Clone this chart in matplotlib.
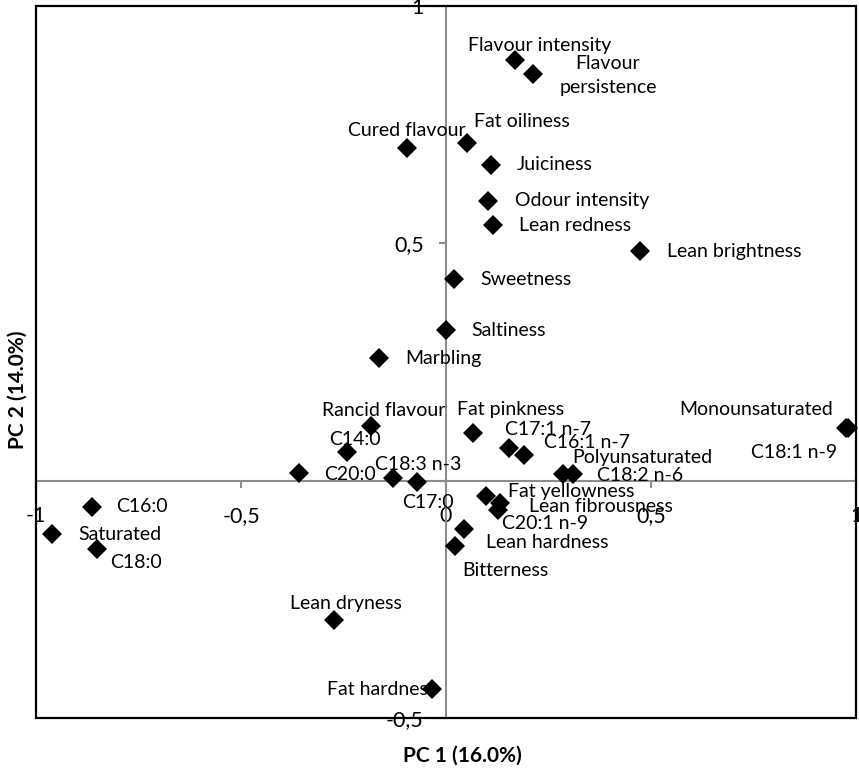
import matplotlib
matplotlib.use("Agg")
import matplotlib.pyplot as plt
from matplotlib.patches import Rectangle

plt.rcParams['font.family'] = ['Lato', 'DejaVu Sans']

names = ["Flavour intensity", "Flavour\npersistence", "Cured flavour", "Fat oiliness",
         "Juiciness", "Odour intensity", "Lean redness", "Lean brightness",
         "Sweetness", "Saltiness", "Marbling", "Rancid flavour", "C14:0", "C20:0",
         "C18:3 n-3", "C17:0", "Fat pinkness", "C17:1 n-7", "C16:1 n-7",
         "Polyunsaturated", "C18:2 n-6", "Fat yellowness", "Lean fibrousness",
         "C20:1 n-9", "Lean hardness", "Bitterness", "Monounsaturated", "C18:1 n-9",
         "C16:0", "Saturated", "C18:0", "Lean dryness", "Fat hardness"]
pc1 = [0.168, 0.212, -0.095, 0.051, 0.110, 0.102, 0.115, 0.473, 0.020, 0.000,
       -0.163, -0.183, -0.241, -0.359, -0.129, -0.071, 0.066, 0.154, 0.190,
       0.285, 0.310, 0.098, 0.132, 0.127, 0.044, 0.022, 0.980, 0.976,
       -0.863, -0.961, -0.851, -0.273, -0.034]
pc2 = [0.887, 0.857, 0.700, 0.712, 0.666, 0.590, 0.538, 0.483, 0.424, 0.317,
       0.258, 0.116, 0.061, 0.017, 0.006, -0.002, 0.101, 0.069, 0.055,
       0.015, 0.015, -0.032, -0.046, -0.061, -0.101, -0.137, 0.111, 0.111,
       -0.055, -0.113, -0.145, -0.294, -0.439]
xticks = [-1, -0.5, 0, 0.5, 1]
xticklabels = ["-1", "-0,5", "0", "0,5", "1"]
yticks = [-0.5, 0, 0.5, 1]
yticklabels = ["-0,5", "", "0,5", "1"]
xlabel = "PC 1 (16.0%)"
ylabel = "PC 2 (14.0%)"

# label placement (pixel offsets from marker: dx right, dy down, alignment)
label_style = [(25, -14, 'center'), (75, 2, 'center'), (0, -18, 'center'), (55, -21, 'center'),
               (26, 0, 'left'), (27, 0, 'left'), (26, 0, 'left'), (27, 0, 'left'),
               (26, 0, 'left'), (25, 0, 'left'), (26, 0, 'left'), (13, -15, 'center'),
               (8, -12, 'center'), (25, 2, 'left'), (25, -13, 'center'), (11, 21, 'center'),
               (38, -23, 'center'), (39, -18, 'center'), (63, -12, 'center'),
               (79, -16, 'center'), (67, 2, 'center'), (85, -4, 'center'), (101, 4, 'center'),
               (47, 14, 'center'), (83, 14, 'center'), (50, 25, 'center'), (-92, -18, 'center'),
               (-52, 25, 'center'), (50, 0, 'center'), (68, 0, 'center'), (39, 13, 'center'),
               (12, -17, 'center'), (-50, 0, 'center')]

W, H = 859, 769
fig = plt.figure(figsize=(W / 100, H / 100), dpi=100)
ax = fig.add_axes([36 / W, (H - 718) / H, 820 / W, (718 - 6) / H])
ax.set_xlim(-1, 1)
ax.set_ylim(-0.5, 1)

gray = '#8c8c8c'
for s in ['top', 'right']:
    ax.spines[s].set_visible(False)
ax.spines['left'].set_position(('data', 0))
ax.spines['bottom'].set_position(('data', 0))
for s in ['left', 'bottom']:
    ax.spines[s].set_color(gray)
    ax.spines[s].set_linewidth(1.5)

ax.add_patch(Rectangle((0, 0), 1, 1, transform=ax.transAxes, fill=False,
                       ec='black', lw=1.6, clip_on=False, zorder=5))

fs = 14
tfs = 15.5
ax.set_xticks(xticks)
ax.set_xticklabels(xticklabels, fontsize=tfs)
ax.set_yticks(yticks)
ax.set_yticklabels(yticklabels, fontsize=tfs)
ax.tick_params(axis='x', direction='out', length=5, width=1.5, color=gray, pad=13)
ax.tick_params(axis='y', direction='out', length=5, width=1.5, color=gray, pad=11)

ax.plot(pc1, pc2, linestyle='none', marker='D', markersize=10, color='black',
        markeredgewidth=0, zorder=4, clip_on=False)

for n, x, y, (dx, dy, ha) in zip(names, pc1, pc2, label_style):
    ax.annotate(n, (x, y), xytext=(dx, -dy), textcoords='offset pixels',
                ha=ha, va='center', fontsize=fs, color='black', zorder=6,
                multialignment='center', linespacing=1.5)

fig.text(462 / W, 1 - 756 / H, xlabel, ha='center', va='center', fontsize=15,
         fontweight='bold')
fig.text(18 / W, 1 - 390 / H, ylabel, ha='center', va='center', fontsize=15,
         fontweight='bold', rotation=90)

fig.savefig('out.png', dpi=100)
